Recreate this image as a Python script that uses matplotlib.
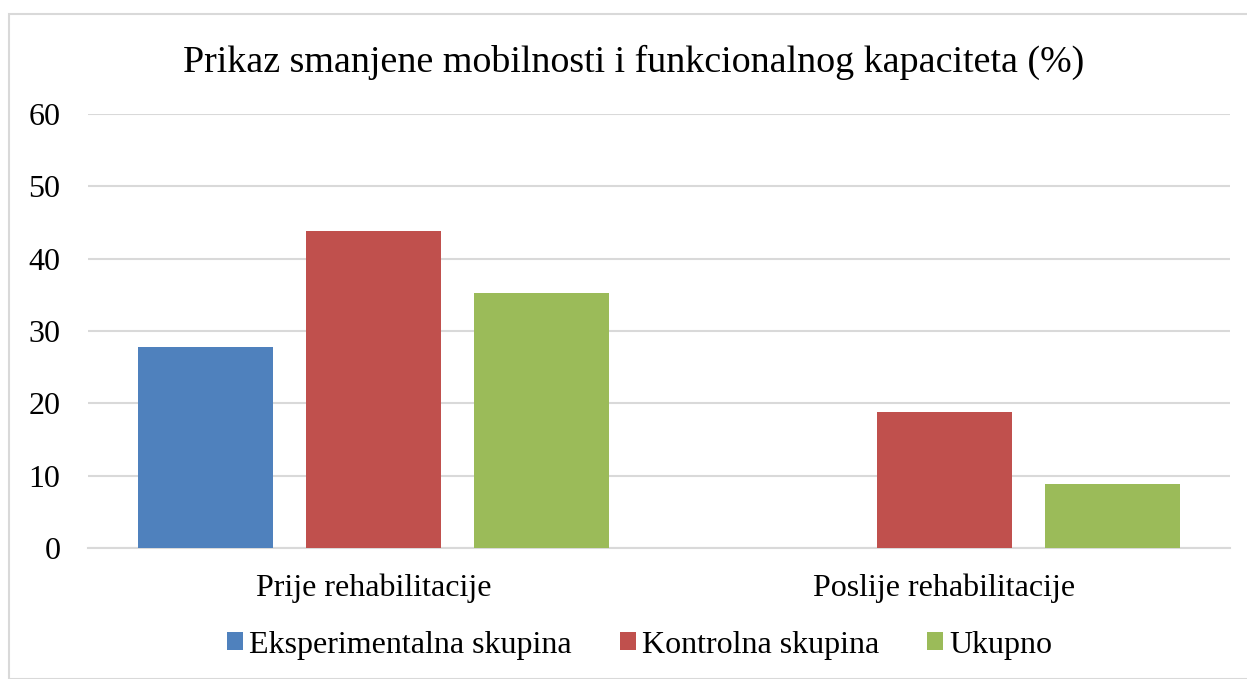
import numpy as np
import matplotlib.pyplot as plt
from matplotlib.patches import Rectangle

plt.rcParams['font.family'] = ['Liberation Serif', 'DejaVu Serif']

categories = ['Prije rehabilitacije', 'Poslije rehabilitacije']
series_names = ['Eksperimentalna skupina', 'Kontrolna skupina', 'Ukupno']
eksperimentalna = [27.8, 0.0]
kontrolna = [43.8, 18.8]
ukupno = [35.3, 8.8]
colors = ['#4F81BD', '#C0504D', '#9BBB59']

fig = plt.figure(figsize=(12.47, 6.79), dpi=100)
ax = fig.add_axes([0.0706, 0.1929, 0.9158, 0.6392])

# chart border
fig.patches.append(Rectangle((9 / 1247, 0), 1.0, 1 - 14 / 679, transform=fig.transFigure,
                             fill=False, edgecolor='#d9d9d9', linewidth=1.5, zorder=0))

x = np.arange(len(categories))
width = 0.236
step = 0.294
for i, (vals, name) in enumerate(zip([eksperimentalna, kontrolna, ukupno], series_names)):
    ax.bar(x + (i - 1) * step, vals, width, color=colors[i], label=name, zorder=3)

ax.set_xlim(-0.5, 1.5)
ax.set_ylim(0, 60)
ax.set_yticks(range(0, 61, 10))
ax.set_xticks(x)
ax.set_xticklabels(categories, fontsize=23)
ax.tick_params(axis='y', labelsize=23, length=0, pad=20)
ax.tick_params(axis='x', length=0, pad=18)
ax.grid(axis='y', color='#d9d9d9', linewidth=1.5, zorder=0)
for s in ['top', 'right', 'left']:
    ax.spines[s].set_visible(False)
ax.spines['bottom'].set_color('#d9d9d9')
ax.spines['bottom'].set_linewidth(1.5)

fig.text(0.508, 1 - 62 / 679, 'Prikaz smanjene mobilnosti i funkcionalnog kapaciteta (%)',
         ha='center', va='center', fontsize=27.4)

fig.legend(loc='center', bbox_to_anchor=(0.513, 1 - 645 / 679), ncol=3, frameon=False,
           fontsize=23, handlelength=0.5, handleheight=0.5, handletextpad=0.2,
           columnspacing=1.5)

fig.savefig('out.png', dpi=100)
